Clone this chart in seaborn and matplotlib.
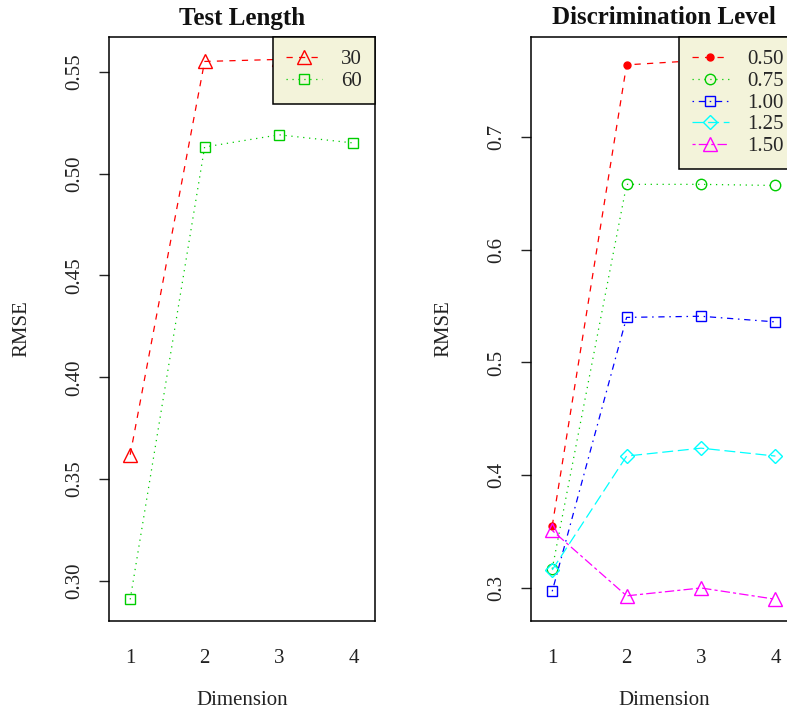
import matplotlib
matplotlib.use("Agg")
import matplotlib.pyplot as plt
import seaborn as sns
import pandas as pd

sns.set_theme(style="white")
plt.rcParams['font.family'] = ['Liberation Serif', 'DejaVu Serif']

dimension = [1, 2, 3, 4]

# Test Length panel
length_labels = ["30", "60"]
rmse_len_30 = [0.362, 0.555, 0.556, 0.557]
rmse_len_60 = [0.291, 0.513, 0.519, 0.515]

# Discrimination Level panel
disc_labels = ["0.50", "0.75", "1.00", "1.25", "1.50"]
rmse_d050 = [0.355, 0.764, 0.768, 0.770]
rmse_d075 = [0.317, 0.658, 0.658, 0.657]
rmse_d100 = [0.297, 0.540, 0.541, 0.536]
rmse_d125 = [0.316, 0.417, 0.424, 0.417]
rmse_d150 = [0.351, 0.293, 0.300, 0.290]

left_ticks = [0.30, 0.35, 0.40, 0.45, 0.50, 0.55]
right_ticks = [0.3, 0.4, 0.5, 0.6, 0.7]

RED, GREEN, BLUE, CYAN, MAG = "#FF0000", "#00CD00", "#0000FF", "#00FFFF", "#FF00FF"
u = 1.25
DASHED = (0, (4*u, 4*u))
DOTTED = (0, (0.8*u, 3*u))
DOTDASH = (0, (1*u, 3*u, 4*u, 3*u))
LONGDASH = (0, (7*u, 3*u))
TWODASH = (0, (2*u, 2*u, 6*u, 2*u))

left_series = [
    (length_labels[0], rmse_len_30, RED, DASHED, "^", 10, "none"),
    (length_labels[1], rmse_len_60, GREEN, DOTTED, "s", 7, "none"),
]
right_series = [
    (disc_labels[0], rmse_d050, RED, DASHED, "o", 5, RED),
    (disc_labels[1], rmse_d075, GREEN, DOTTED, "o", 7.5, "none"),
    (disc_labels[2], rmse_d100, BLUE, DOTDASH, "s", 7, "none"),
    (disc_labels[3], rmse_d125, CYAN, LONGDASH, "D", 7.5, "none"),
    (disc_labels[4], rmse_d150, MAG, TWODASH, "^", 10, "none"),
]

W, H = 787, 713
fig = plt.figure(figsize=(W/100, H/100), dpi=100)
axL = fig.add_axes([109/W, (H-621)/H, 266/W, 584/H])
axR = fig.add_axes([531/W, (H-621)/H, 266/W, 584/H])

FS = 15

def draw(ax, series, title, yticks, ylim, fmt):
    for lab, vals, col, ls, mk, ms, mfc in series:
        df = pd.DataFrame({"Dimension": dimension, "RMSE": vals})
        sns.lineplot(data=df, x="Dimension", y="RMSE", ax=ax, color=col,
                     linestyle=ls, linewidth=0.9, marker=mk, markersize=ms,
                     markerfacecolor=mfc, markeredgecolor=col, markeredgewidth=1.0,
                     label=lab)
    ax.set_xlim(0.715, 4.29)
    ax.set_ylim(*ylim)
    ax.set_xticks(dimension)
    ax.set_xticklabels([str(d) for d in dimension])
    ax.set_yticks(yticks)
    ax.set_yticklabels([fmt.format(t) for t in yticks], rotation=90, va="center")
    ax.tick_params(axis="x", length=0, pad=20, labelsize=FS, colors="#222222")
    ax.tick_params(axis="y", length=7, width=1, direction="out", pad=11,
                   labelsize=FS, colors="#222222", left=True)
    for s in ax.spines.values():
        s.set_color("black")
        s.set_linewidth(1.1)
    ax.grid(False)
    ax.set_xlabel("Dimension", fontsize=FS, color="#222222")
    ax.set_ylabel("RMSE", fontsize=FS, color="#222222")
    ax.xaxis.set_label_coords(0.5, -0.12)
    ax.yaxis.set_label_coords(-0.29, 0.5)
    ax.set_title(title, fontsize=18, fontweight="bold", pad=9, color="#111111")
    leg = ax.legend(loc="upper right", bbox_to_anchor=(1, 1), frameon=True,
                    fancybox=False, borderaxespad=0, fontsize=FS,
                    handlelength=1.75, handletextpad=0.9, labelspacing=0.1,
                    borderpad=0.62, markerfirst=True)
    fr = leg.get_frame()
    fr.set_facecolor("#F3F3DA")
    fr.set_edgecolor("black")
    fr.set_linewidth(1.1)
    fr.set_alpha(1)
    leg.set_zorder(5)

draw(axL, left_series, "Test Length", left_ticks, (0.2804, 0.567), "{:.2f}")
draw(axR, right_series, "Discrimination Level", right_ticks, (0.2707, 0.7887), "{:.1f}")

fig.savefig("out.png", dpi=100)
